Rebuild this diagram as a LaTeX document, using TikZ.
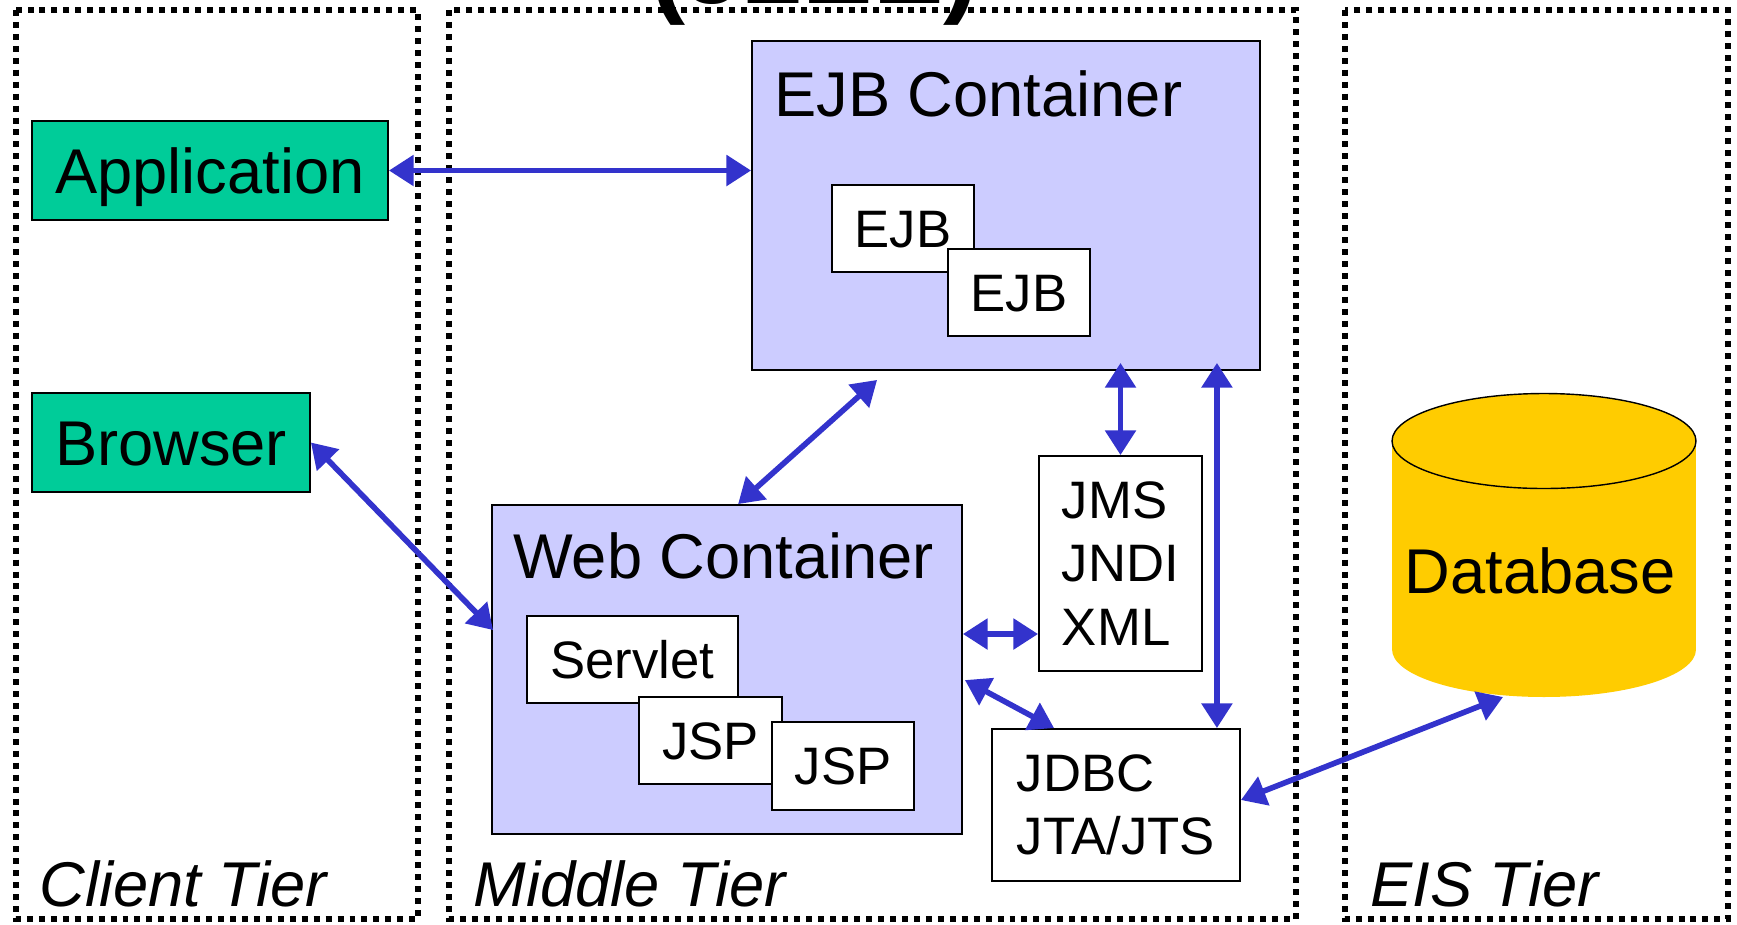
\documentclass[tikz,border=0pt]{standalone}
\usepackage{fontspec}
\setmainfont{Liberation Sans}
\usetikzlibrary{arrows.meta,calc}
\definecolor{ctrfill}{HTML}{CCCCFF}
\definecolor{clientgreen}{HTML}{00CC99}
\definecolor{dbyellow}{HTML}{FFCC00}
\definecolor{linkblue}{HTML}{3333CC}
\begin{document}
\begin{tikzpicture}[x=0.02cm,y=-0.02cm,
    tier/.style={draw,line width=3.3pt,dash pattern=on 3.4pt off 3.4pt},
    tierlabel/.style={anchor=base west,inner sep=0pt,font=\fontsize{36}{43}\selectfont\itshape},
    big/.style={font=\fontsize{36}{43}\selectfont,text height=26pt,text depth=0pt},
    small/.style={font=\fontsize{30}{36}\selectfont,text height=21.5pt,text depth=0pt},
    box/.style={draw,line width=1.1pt,inner sep=0pt},
    svc/.style={draw,line width=1.1pt,inner sep=0pt,fill=white,align=left,font=\fontsize{30}{36}\selectfont},
    link/.style={draw=linkblue,line width=3.2pt,>={Triangle[length=14pt,width=17pt]},<->}]
  \useasboundingbox (0,0) rectangle (1737,924);
  \clip (0,0) rectangle (1737,924);
  \node[anchor=base west,inner sep=0pt,font=\fontsize{60}{72}\selectfont\bfseries] (title) at (650,3) {(J2EE)};
  \draw[tier] (16,10) rectangle (418,919);
  \draw[tier] (449,10) rectangle (1296,919);
  \draw[tier] (1345,10) rectangle (1728,919);
  \node[tierlabel] (clientlbl) at (39,906) {Client Tier};
  \node[tierlabel] (middlelbl) at (473,906) {Middle Tier};
  \node[tierlabel] (eislbl) at (1370,906) {EIS Tier};
  \node[box,big,fill=clientgreen,minimum width=7.12cm,minimum height=1.98cm] (app) at (210,170.5) {Application};
  \node[box,big,fill=clientgreen,minimum width=5.56cm,minimum height=1.98cm] (brw) at (171,442.5) {Browser};
  \node[box,fill=ctrfill,minimum width=10.16cm,minimum height=6.58cm] (ejbc) at (1006,205.5) {};
  \node[big,anchor=base west,inner sep=0pt] (ejbtitle) at (774,116) {EJB Container};
  \node[box,small,fill=white,minimum width=2.84cm,minimum height=1.74cm] (ejba) at (903,228.5) {EJB};
  \node[box,small,fill=white,minimum width=2.84cm,minimum height=1.74cm] (ejbb) at (1019,292.5) {EJB};
  \node[box,fill=ctrfill,minimum width=9.4cm,minimum height=6.58cm] (web) at (727,669.5) {};
  \node[big,anchor=base west,inner sep=0pt] (webtitle) at (513,578) {Web Container};
  \node[box,small,fill=white,minimum width=4.22cm,minimum height=1.74cm] (srv) at (632.5,659.5) {Servlet};
  \node[box,small,fill=white,minimum width=2.86cm,minimum height=1.74cm] (jspa) at (710.5,740.5) {JSP};
  \node[box,small,fill=white,minimum width=2.84cm,minimum height=1.76cm] (jspb) at (843,766) {JSP};
  \node[svc,minimum width=3.26cm,minimum height=4.3cm] (jms) at (1120.5,563.5) {JMS\\JNDI\\XML};
  \node[svc,minimum width=4.96cm,minimum height=3.04cm] (jdbc) at (1116,805) {JDBC\\JTA/JTS};
  \fill[dbyellow] (1392,441) rectangle (1696,649.5);
  \fill[dbyellow] (1544,649.5) ellipse [x radius=3.04cm,y radius=0.95cm];
  \filldraw[fill=dbyellow,line width=0.8pt] (1544,441) ellipse [x radius=3.04cm,y radius=0.95cm];
  \node[font=\fontsize{36}{43}\selectfont] (db) at (1540,571) {Database};
  \draw[link] (app.east) -- (app.east -| ejbc.west);
  \draw[link] (brw.east) -- ($(web.north west)+(2,126)$);
  \draw[link] ($(ejbc.south west)+(126,9)$) -- ($(web.north west)+(247,0)$);
  \draw[link] ($(jms.north |- ejbc.south)+(0,-8)$) -- (jms.north);
  \draw[link] ($(jdbc.north east |- ejbc.south)+(-24,-8)$) -- ($(jdbc.north east)+(-24,0)$);
  \draw[link] ($(web.east)+(0,-35.5)$) -- ($(jms.west)+(0,70.5)$);
  \draw[link] ($(web.north east)+(2,176)$) -- ($(jdbc.north west)+(63,0)$);
  \draw[link] ($(jdbc.east)+(0,-5)$) -- ($(db)+(-37,126)$);
\end{tikzpicture}
\end{document}
